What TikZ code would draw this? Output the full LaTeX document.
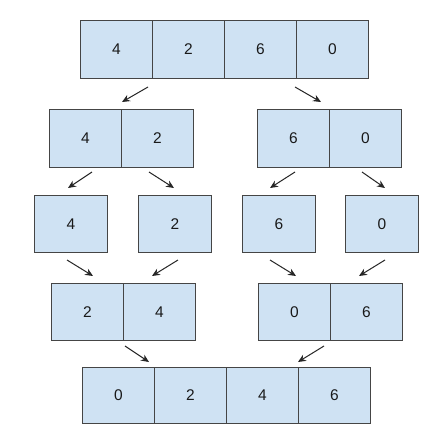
\documentclass[tikz,border=0pt]{standalone}
\usepackage{fontspec}
\setmainfont{Liberation Sans}
\usetikzlibrary{arrows.meta}
\definecolor{cellfill}{HTML}{CFE2F3}
\definecolor{cellline}{HTML}{454545}
\begin{document}
\begin{tikzpicture}[x=1pt,y=-1pt,
  cell/.style={draw=cellline,fill=cellfill,line width=1pt,minimum width=72pt,minimum height=58pt,inner sep=0pt,anchor=north west,font=\fontsize{15.5}{18}\selectfont,text=black!90},
  single/.style={cell,minimum width=73pt,minimum height=57pt},
  arr/.style={draw=black!85,line width=1pt,-{Stealth[length=8pt,width=7pt]}}]
\useasboundingbox[fill=white] (0,0) rectangle (440,442);
% row 1
\node[cell] (a1) at (80,20) {4};
\node[cell] (a2) at (152,20) {2};
\node[cell] (a3) at (224,20) {6};
\node[cell] (a4) at (296,20) {0};
% row 2
\node[cell] (b1) at (49,109) {4};
\node[cell] (b2) at (121,109) {2};
\node[cell] (b3) at (257,109) {6};
\node[cell] (b4) at (329,109) {0};
% row 3
\node[single] (c1) at (34,195) {4};
\node[single] (c2) at (138,195) {2};
\node[single] (c3) at (242,195) {6};
\node[single] (c4) at (345,195) {0};
% row 4
\node[cell,minimum height=57pt] (d1) at (51,283) {2};
\node[cell,minimum height=57pt] (d2) at (123,283) {4};
\node[cell,minimum height=57pt] (d3) at (258,283) {0};
\node[cell,minimum height=57pt] (d4) at (330,283) {6};
% row 5
\node[cell,minimum height=56pt] (e1) at (82,367) {0};
\node[cell,minimum height=56pt] (e2) at (154,367) {2};
\node[cell,minimum height=56pt] (e3) at (226,367) {4};
\node[cell,minimum height=56pt] (e4) at (298,367) {6};
% arrow end points
\coordinate (p1s) at (148,87);  \coordinate (p1e) at (122,102);
\coordinate (p2s) at (295,87);  \coordinate (p2e) at (321,102);
\coordinate (q1s) at (92,172);  \coordinate (q1e) at (68,188);
\coordinate (q2s) at (149,172); \coordinate (q2e) at (174,188);
\coordinate (q3s) at (295,172); \coordinate (q3e) at (270,188);
\coordinate (q4s) at (362,172); \coordinate (q4e) at (385,188);
\coordinate (r1s) at (67,260);  \coordinate (r1e) at (93,276);
\coordinate (r2s) at (178,260); \coordinate (r2e) at (152,276);
\coordinate (r3s) at (270,260); \coordinate (r3e) at (296,276);
\coordinate (r4s) at (385,260); \coordinate (r4e) at (359,276);
\coordinate (s1s) at (125,346); \coordinate (s1e) at (149,362);
\coordinate (s2s) at (324,346); \coordinate (s2e) at (298,362);
\foreach \a in {p1,p2,q1,q2,q3,q4,r1,r2,r3,r4,s1,s2}
  \draw[arr] (\a s) -- (\a e);
\end{tikzpicture}
\end{document}
